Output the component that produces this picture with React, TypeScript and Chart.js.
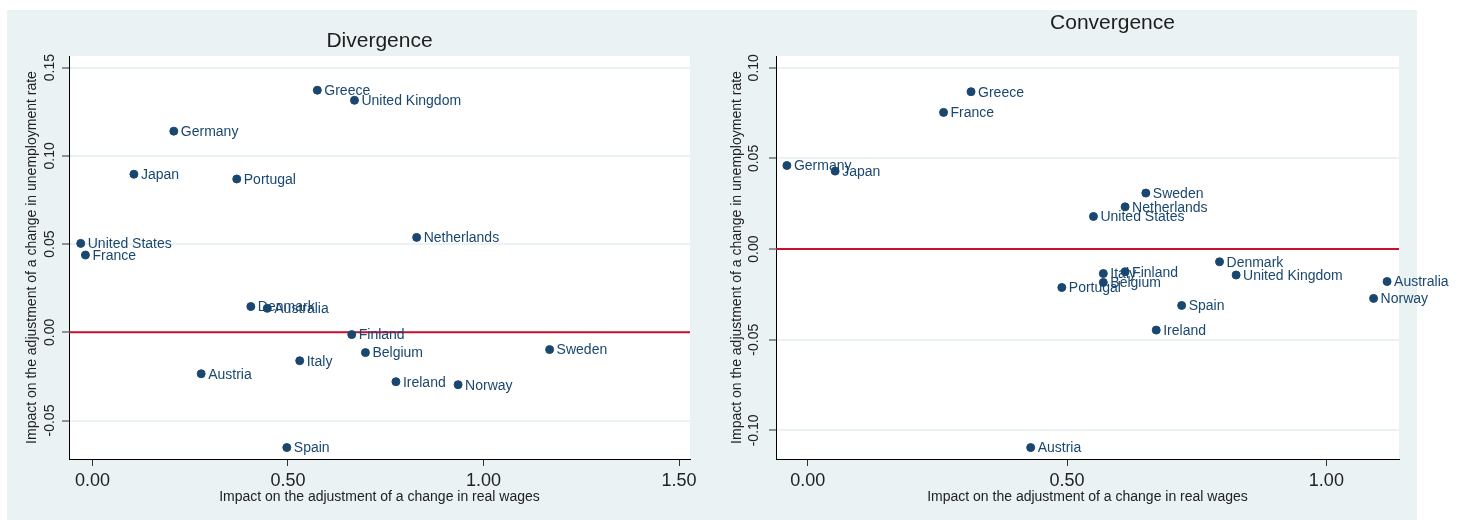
import React, { useEffect, useRef } from 'react';
import { Chart, registerables } from 'chart.js';

Chart.register(...registerables);

const FONT = "'Liberation Sans', Arial, sans-serif";
const NAVY = '#1A476F';
const PANEL_BG = '#EAF2F3';
const ZERO_LINE = '#C8102E';

const xAxisTitle = 'Impact on the adjustment of a change in real wages';
const yAxisTitle = 'Impact on the adjustment of a change in unemployment rate';

// Divergence panel
const divCountries = ['Greece', 'United Kingdom', 'Germany', 'Japan', 'Portugal', 'Netherlands', 'United States', 'France', 'Denmark', 'Australia', 'Finland', 'Belgium', 'Sweden', 'Italy', 'Austria', 'Ireland', 'Norway', 'Spain'];
const divWages = [0.575, 0.670, 0.208, 0.106, 0.369, 0.829, -0.030, -0.018, 0.405, 0.447, 0.663, 0.698, 1.169, 0.530, 0.278, 0.776, 0.935, 0.497];
const divUnemp = [0.1372, 0.1315, 0.1140, 0.0896, 0.0869, 0.0538, 0.0504, 0.0438, 0.0146, 0.0136, -0.0013, -0.0115, -0.0098, -0.0161, -0.0235, -0.0280, -0.0297, -0.0653];
const divXTicks = [0, 0.5, 1, 1.5];
const divYTicks = [-0.05, 0, 0.05, 0.1, 0.15];

// Convergence panel
const convCountries = ['Greece', 'France', 'Germany', 'Japan', 'Sweden', 'Netherlands', 'United States', 'Denmark', 'Italy', 'Finland', 'United Kingdom', 'Belgium', 'Portugal', 'Australia', 'Norway', 'Spain', 'Ireland', 'Austria'];
const convWages = [0.315, 0.262, -0.040, 0.053, 0.652, 0.612, 0.551, 0.794, 0.570, 0.612, 0.826, 0.570, 0.490, 1.117, 1.091, 0.721, 0.672, 0.430];
const convUnemp = [0.0868, 0.0754, 0.0461, 0.0430, 0.0309, 0.0233, 0.0180, -0.0070, -0.0135, -0.0125, -0.0143, -0.0184, -0.0212, -0.0179, -0.0272, -0.0311, -0.0447, -0.1095];
const convXTicks = [0, 0.5, 1];
const convYTicks = [-0.1, -0.05, 0, 0.05, 0.1];

// white plot region on the grey panel
const plotBg = {
  id: 'plotBg',
  beforeDraw (chart: any) {
    const { ctx, chartArea: a } = chart;

    ctx.save();
    ctx.fillStyle = '#ffffff';
    ctx.fillRect(a.left, a.top, a.width, a.height);
    ctx.restore();
  }
};

// country names to the right of each marker
const pointLabels = {
  id: 'pointLabels',
  afterDatasetsDraw (chart: any, _args: any, opts: any) {
    const { ctx } = chart;
    const meta = chart.getDatasetMeta(0);

    ctx.save();
    ctx.font = `14px ${FONT}`;
    ctx.fillStyle = NAVY;
    ctx.textAlign = 'left';
    ctx.textBaseline = 'middle';
    meta.data.forEach((pt: any, i: number) => {
      ctx.fillText(opts.names[i], pt.x + 7, pt.y + 1);
    });
    ctx.restore();
  }
};

// small horizontal nudge of the chart title
const titleShift = {
  id: 'titleShift',
  afterLayout (chart: any, _args: any, opts: any) {
    const t = chart.titleBlock;

    if (t && opts.dx) {
      t.left += opts.dx;
      t.right += opts.dx;
    }
  }
};

interface PanelProps {
  title: string;
  names: string[];
  xs: number[];
  ys: number[];
  xTicks: number[];
  yTicks: number[];
  xMin: number;
  xMax: number;
  yMin: number;
  yMax: number;
  left: number;
  width: number;
  padRight: number;
  yAxisWidth: number;
  yTickPad: number;
  yTitlePad: number;
  titleTop: number;
  titleBottom: number;
  titleDx: number;
}

const fmt = (v: any) => Number(v).toFixed(2);

const ScatterPanel = (p: PanelProps) => {
  const chartRef = useRef<HTMLCanvasElement>(null);

  useEffect(() => {
    const points = p.xs.map((x, i) => ({ x, y: p.ys[i] }));

    const chart = new Chart(chartRef.current as HTMLCanvasElement, {
      type: 'scatter',
      data: {
        datasets: [
          {
            data: points,
            backgroundColor: NAVY,
            borderColor: NAVY,
            pointRadius: 4,
            pointHoverRadius: 4,
            order: 0
          },
          {
            type: 'line',
            data: [{ x: p.xMin, y: 0 }, { x: p.xMax, y: 0 }],
            borderColor: ZERO_LINE,
            borderWidth: 2,
            pointRadius: 0,
            order: 1
          }
        ] as any
      },
      options: {
        animation: false,
        responsive: true,
        maintainAspectRatio: false,
        events: [],
        layout: { padding: { left: 0, right: p.padRight, top: 0, bottom: 0 } },
        plugins: {
          legend: { display: false },
          tooltip: { enabled: false },
          title: {
            display: true,
            text: p.title,
            fullSize: false,
            color: '#1e1e1e',
            font: { family: FONT, size: 21, weight: 'normal' },
            padding: { top: p.titleTop, bottom: p.titleBottom }
          },
          pointLabels: { names: p.names },
          titleShift: { dx: p.titleDx }
        } as any,
        scales: {
          x: {
            type: 'linear',
            min: p.xMin,
            max: p.xMax,
            afterBuildTicks: (s: any) => { s.ticks = p.xTicks.map((v) => ({ value: v })); },
            afterFit: (s: any) => { s.height = 61; },
            grid: { drawOnChartArea: false, drawTicks: true, tickLength: 7, tickColor: '#333', tickWidth: 1 },
            border: { display: true, color: '#000', width: 1 },
            ticks: { font: { family: FONT, size: 18 }, color: '#222', padding: 4, autoSkip: false, maxRotation: 0, callback: fmt },
            title: { display: true, text: xAxisTitle, color: '#222', font: { family: FONT, size: 14 }, padding: { top: 0, bottom: 14 } }
          },
          y: {
            type: 'linear',
            min: p.yMin,
            max: p.yMax,
            afterBuildTicks: (s: any) => { s.ticks = p.yTicks.map((v) => ({ value: v })); },
            afterFit: (s: any) => { s.width = p.yAxisWidth; },
            grid: { color: PANEL_BG, lineWidth: 2, drawTicks: true, tickLength: 7, tickColor: '#333', tickWidth: 1 },
            border: { display: true, color: '#000', width: 1 },
            ticks: { font: { family: FONT, size: 14 }, color: '#222', minRotation: 90, maxRotation: 90, crossAlign: 'center', padding: p.yTickPad, autoSkip: false, callback: fmt },
            title: { display: true, text: yAxisTitle, color: '#222', font: { family: FONT, size: 14 }, padding: { top: p.yTitlePad, bottom: 0 } }
          }
        } as any
      },
      plugins: [plotBg, pointLabels, titleShift]
    });

    return () => {
      chart.destroy();
    };
  }, []);

  return (
    <div style={{ position: 'absolute', left: p.left, top: 10, width: p.width, height: 510 }}>
      <canvas ref={chartRef} />
    </div>
  );
};

const App = () => {
  return (
    <div>
      <div style={{ position: 'absolute', left: 7, top: 10, width: 1410, height: 510, background: PANEL_BG }} />
      <ScatterPanel
        title='Divergence'
        names={divCountries}
        xs={divWages}
        ys={divUnemp}
        xTicks={divXTicks}
        yTicks={divYTicks}
        xMin={-0.06}
        xMax={1.528}
        yMin={-0.0718}
        yMax={0.1566}
        left={7}
        width={723}
        padRight={40}
        yAxisWidth={62}
        yTickPad={-4}
        yTitlePad={16.4}
        titleTop={18.4}
        titleBottom={2.4}
        titleDx={0}
      />
      <ScatterPanel
        title='Convergence'
        names={convCountries}
        xs={convWages}
        ys={convUnemp}
        xTicks={convXTicks}
        yTicks={convYTicks}
        xMin={-0.061}
        xMax={1.14}
        yMin={-0.1158}
        yMax={0.1065}
        left={730}
        width={730}
        padRight={61}
        yAxisWidth={46}
        yTickPad={-1}
        yTitlePad={-1.4}
        titleTop={0.4}
        titleBottom={20.4}
        titleDx={25}
      />
    </div>
  );
};

export default App;
